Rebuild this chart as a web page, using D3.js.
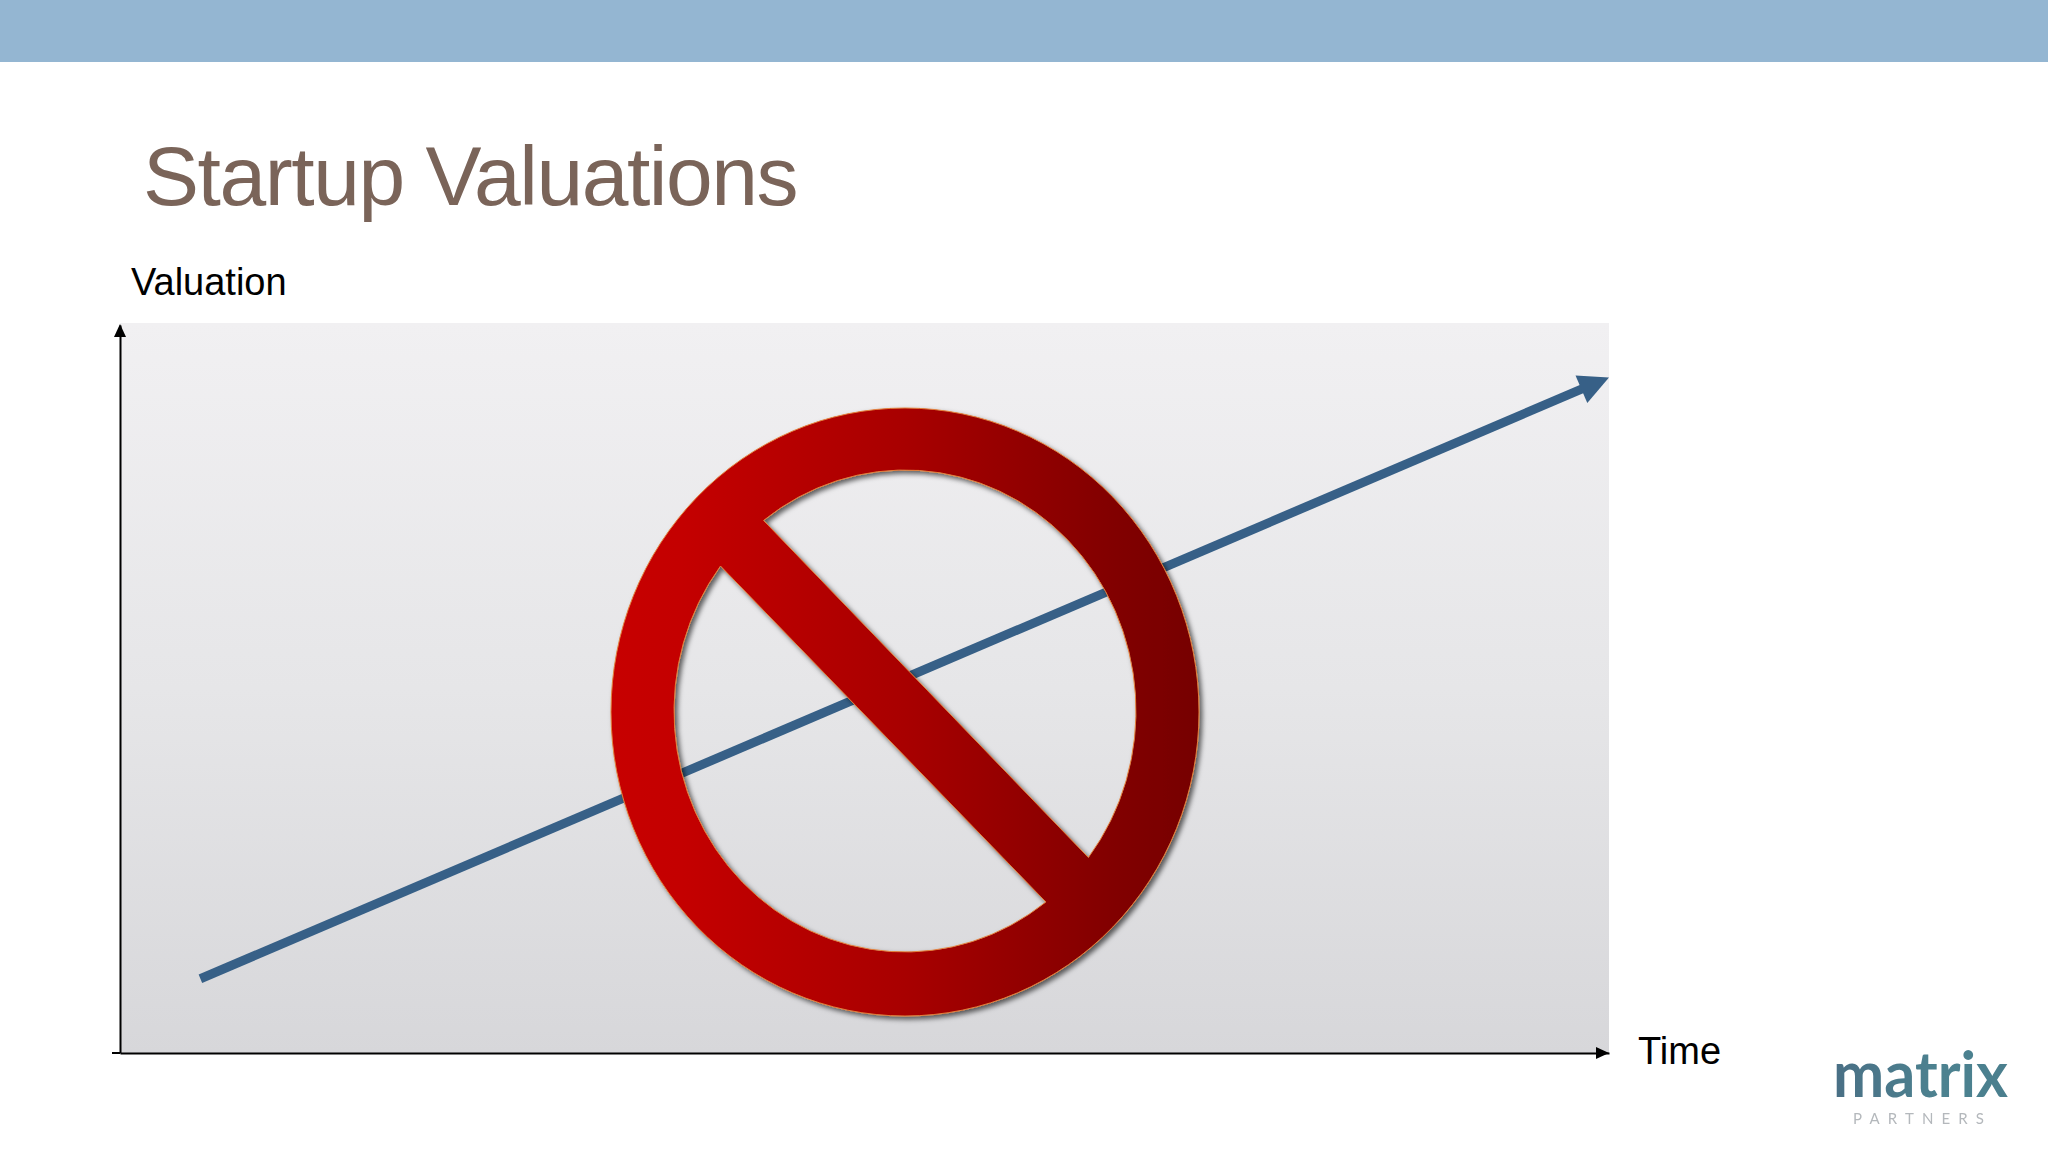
<!DOCTYPE html>
<html><head><meta charset="utf-8">
<script src="https://cdn.jsdelivr.net/npm/d3@7/dist/d3.min.js"></script>
<style>html,body{margin:0;padding:0;background:#fff}svg{display:block}text{font-family:"Liberation Sans",Arial,sans-serif}</style>
</head><body><div id="chart"></div>
<script>
const titleText = "Startup Valuations";
const yLabel = "Valuation";
const xLabel = "Time";
const logoWord = "matrix";
const logoSub = "PARTNERS";
const trendTime = [5.4, 100];
const trendValuation = [10.2, 92.8];

const W = 2048, H = 1152;
const x = d3.scaleLinear().domain([0,100]).range([120,1609]);
const y = d3.scaleLinear().domain([0,100]).range([1053,325]);
const svg = d3.select("#chart").append("svg").attr("width",W).attr("height",H).attr("viewBox",[0,0,W,H]);
const defs = svg.append("defs");
function grad(id,x2,y2,stops){
  const g = defs.append("linearGradient").attr("id",id).attr("x1",0).attr("y1",0).attr("x2",x2).attr("y2",y2);
  stops.forEach(s=>g.append("stop").attr("offset",s[0]).attr("stop-color",s[1]));
}
grad("bg",0,1,[[0,"#f1f0f2"],[0.5,"#e6e6e8"],[1,"#d7d7da"]]);
grad("red",1,0,[[0,"#c70000"],[0.12,"#c40000"],[0.5,"#a80000"],[0.85,"#820000"],[1,"#760000"]]);
grad("teal",1,0,[[0,"#4a6f85"],[0.6,"#4d8290"],[1,"#4b7f8e"]]);
const shadow = defs.append("filter").attr("id","sh").attr("x","-5%").attr("y","-5%").attr("width","112%").attr("height","112%");
shadow.append("feDropShadow").attr("dx",3).attr("dy",3).attr("stdDeviation",2.5).attr("flood-color","#000").attr("flood-opacity",0.6);
const soft = defs.append("filter").attr("id","soft");
soft.append("feGaussianBlur").attr("stdDeviation",0.7);

svg.append("rect").attr("x",0).attr("y",0).attr("width",W).attr("height",62).attr("fill","#94b6d2");
svg.append("rect").attr("x",x(0)).attr("y",323).attr("width",x(100)-x(0)).attr("height",y(0)-323).attr("fill","url(#bg)");

svg.append("text").attr("x",143).attr("y",205).attr("font-size",84).attr("letter-spacing",-1.45).attr("fill","#7a6459").text(titleText);
svg.append("text").attr("x",131).attr("y",295).attr("font-size",38).attr("fill","#000").text(yLabel);
svg.append("text").attr("x",1638).attr("y",1064).attr("font-size",38).attr("fill","#000").text(xLabel);

// axes
const xAxis = svg.append("g").attr("transform",`translate(0,${y(0)})`).call(d3.axisBottom(x).tickValues([]).tickSizeOuter(0));
const yAxis = svg.append("g").attr("transform",`translate(${x(0)},0)`).call(d3.axisLeft(y).tickValues([]).tickSizeOuter(0));
svg.selectAll("g .domain").attr("stroke","#000").attr("stroke-width",2);
svg.append("line").attr("x1",112).attr("x2",x(0)).attr("y1",y(0)).attr("y2",y(0)).attr("stroke","#000").attr("stroke-width",2);
const tri = (tipX,tipY,dx,dy,len,half)=>{
  const bx=tipX-dx*len, by=tipY-dy*len;
  return [[tipX,tipY],[bx-dy*half,by+dx*half],[bx+dy*half,by-dx*half]];
};
const poly = pts => "M"+pts.map(p=>p.join(",")).join("L")+"Z";
svg.append("path").attr("d",poly(tri(x(100),y(0),1,0,13,6))).attr("fill","#000");
svg.append("path").attr("d",poly(tri(x(0),y(100)-1,0,-1,13,6))).attr("fill","#000");

// trend line
const pts = trendTime.map((t,i)=>[x(t),y(trendValuation[i])]);
const [a,b] = pts;
const L = Math.hypot(b[0]-a[0],b[1]-a[1]), ux=(b[0]-a[0])/L, uy=(b[1]-a[1])/L;
const headLen=30, headHalf=15;
const shaft=[a,[b[0]-ux*(headLen-2),b[1]-uy*(headLen-2)]];
svg.append("path").attr("d",d3.line()(shaft)).attr("fill","none").attr("stroke","#376087").attr("stroke-width",9);
svg.append("path").attr("d",poly(tri(b[0],b[1],ux,uy,headLen,headHalf))).attr("fill","#376087");

// prohibition sign
const cx=905, cy=712, rx=294, ry=304, icx=905, icy=711, irx=231, iry=241;
const onInner = ([px,py])=>{
  const t=Math.atan2((py-icy)/iry,(px-icx)/irx);
  return [icx+irx*Math.cos(t), icy+iry*Math.sin(t)];
};
const arcPiece = (from,to)=>{
  const p=onInner(from), q=onInner(to);
  return `M${p[0]},${p[1]}A${irx},${iry} 0 0 1 ${q[0]},${q[1]}Z`;
};
const outer=`M${cx-rx},${cy}A${rx},${ry} 0 1 1 ${cx+rx},${cy}A${rx},${ry} 0 1 1 ${cx-rx},${cy}Z`;
const upper=arcPiece([764,521],[1089,858]);
const lower=arcPiece([1046.6,903],[720.5,566]);
svg.append("path").attr("d",outer+upper+lower).attr("fill-rule","evenodd").attr("fill","url(#red)")
  .attr("stroke","#e2803c").attr("stroke-width",1).attr("filter","url(#sh)");

// logo
const logo = svg.append("g").attr("filter","url(#soft)");
logo.append("text").attr("x",1833).attr("y",1097).attr("font-size",64).attr("font-weight",700)
  .style("font-family","Lato, 'Open Sans', sans-serif").attr("textLength",175).attr("lengthAdjust","spacingAndGlyphs").attr("fill","url(#teal)").text(logoWord);
logo.append("text").attr("x",1853).attr("y",1124).attr("font-size",15)
  .style("font-family","Lato, 'Open Sans', sans-serif").attr("textLength",131).attr("fill","#b4b8bc").text(logoSub);
</script></body></html>
